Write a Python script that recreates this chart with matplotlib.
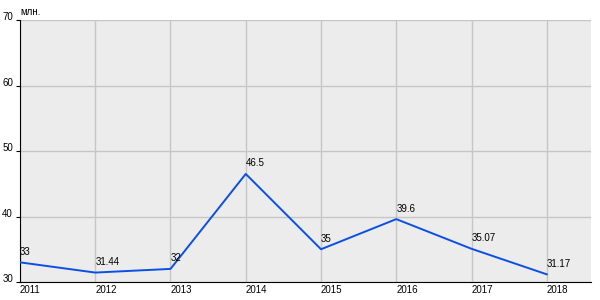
import matplotlib
matplotlib.use("Agg")
import matplotlib.pyplot as plt

years = [2011, 2012, 2013, 2014, 2015, 2016, 2017, 2018]
values = [33, 31.44, 32, 46.5, 35, 39.6, 35.07, 31.17]
labels = ["33", "31.44", "32", "46.5", "35", "39.6", "35.07", "31.17"]
y_ticks = [30, 40, 50, 60, 70]

plt.rcParams['font.family'] = ['Liberation Sans', 'DejaVu Sans']

fig = plt.figure(figsize=(6, 3), dpi=100)
ax = fig.add_axes([0.0333, 0.06, 0.952, 0.8733])
ax.set_facecolor('#ececec')

ax.plot(years, values, color='#0a4fe6', lw=1.4, zorder=3)
for x, y, s in zip(years, values, labels):
    ax.annotate(s, (x, y), xytext=(0, 4), textcoords='offset points',
                ha='left', va='bottom', fontsize=7, color='black')

ax.set_xlim(2011, 2018.59)
ax.set_ylim(30, 70)
ax.set_xticks(years)
ax.set_xticklabels([str(y) for y in years], ha='left')
ax.set_yticks(y_ticks)
ax.grid(True, color='#c6c6c6', lw=1)
ax.set_axisbelow(True)

ax.tick_params(axis='x', length=0, pad=2, labelsize=7, colors='black')
ax.tick_params(axis='y', length=3, pad=2, labelsize=7, colors='black')
for t in ax.get_yticklabels():
    t.set_verticalalignment('baseline')
ax.spines['top'].set_visible(False)
ax.spines['right'].set_visible(False)
ax.spines['left'].set_color('black')
ax.spines['bottom'].set_color('black')

fig.text(0.0333, 0.96, "млн.", fontsize=7, ha='left', va='center', color='black')

fig.savefig("out.png", dpi=100)
